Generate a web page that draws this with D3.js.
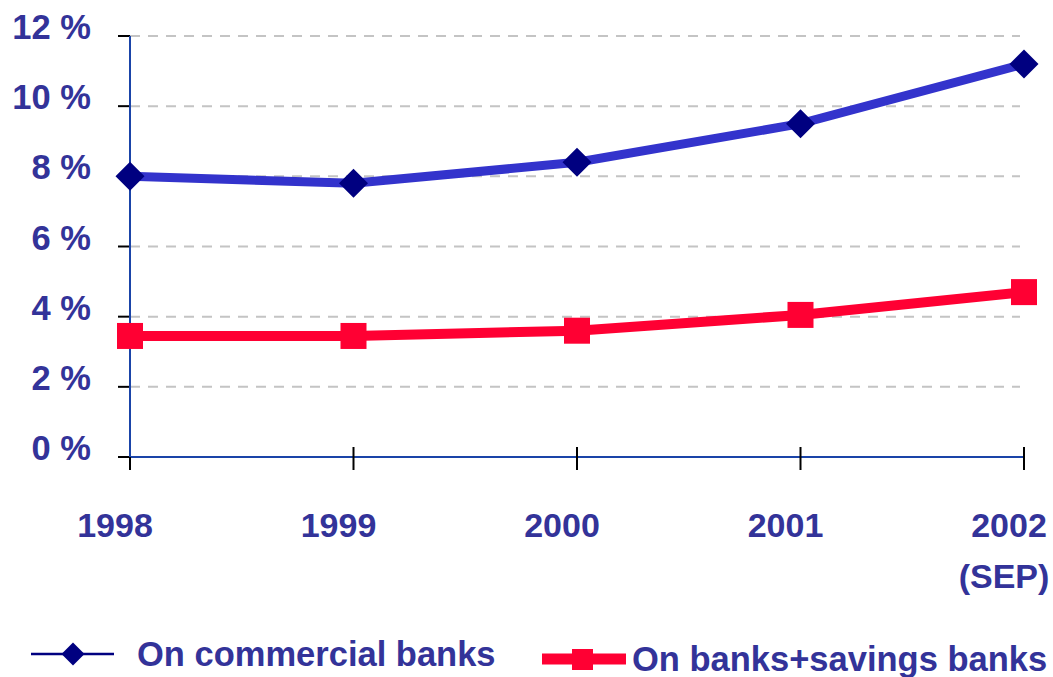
<!DOCTYPE html>
<html><head><meta charset="utf-8">
<script src="https://cdn.jsdelivr.net/npm/d3@7"></script>
<style>body{margin:0;background:#fff}svg{display:block}text{font-family:"Liberation Sans",Arial,sans-serif;font-weight:bold;fill:#333399}</style>
</head><body>
<svg id="c" width="1053" height="677"></svg>
<script>
const years = ["1998","1999","2000","2001","2002"];
const yearSub = ["","","","","(SEP)"];
const commercial = [8.0, 7.8, 8.4, 9.5, 11.2];
const banksSavings = [3.45, 3.45, 3.6, 4.05, 4.7];
const yTicks = [0, 2, 4, 6, 8, 10, 12];
const seriesNames = ["On commercial banks", "On banks+savings banks"];

const svg = d3.select("#c");
const x = d3.scalePoint().domain(years).range([130, 1024]);
const y = d3.scaleLinear().domain([0, 12]).range([457, 36]);

// gridlines
svg.append("g").selectAll("line").data(yTicks.filter(d => d > 0)).join("line")
  .attr("x1", 130).attr("x2", 1020).attr("y1", d => y(d)).attr("y2", d => y(d))
  .attr("stroke", "#c4c4c4").attr("stroke-width", 2).attr("stroke-dasharray", "10,8");

// y ticks
svg.append("g").selectAll("line").data(yTicks).join("line")
  .attr("x1", 118).attr("x2", 130).attr("y1", d => y(d)).attr("y2", d => y(d))
  .attr("stroke", "#000").attr("stroke-width", 2);
svg.append("g").selectAll("text").data(yTicks).join("text")
  .attr("x", 91).attr("y", d => y(d) + 3).attr("text-anchor", "end")
  .attr("font-size", 34.5).text(d => d + " %");

// axes lines
svg.append("line").attr("x1", 130).attr("x2", 130).attr("y1", y(12)).attr("y2", y(0))
  .attr("stroke", "#1a44a8").attr("stroke-width", 2);
svg.append("line").attr("x1", 130).attr("x2", 1024).attr("y1", y(0)).attr("y2", y(0))
  .attr("stroke", "#1a44a8").attr("stroke-width", 2);
// x ticks
svg.append("g").selectAll("line").data(years).join("line")
  .attr("x1", d => x(d)).attr("x2", d => x(d)).attr("y1", d => d === years[0] ? y(0) : y(0) - 10).attr("y2", 470)
  .attr("stroke", "#000").attr("stroke-width", 2);
// x labels
svg.append("g").selectAll("text").data(years).join("text")
  .attr("x", d => x(d) - 15).attr("y", 537).attr("text-anchor", "middle")
  .attr("font-size", 34).text(d => d);
svg.append("g").selectAll("text").data(years.map((d, i) => [d, yearSub[i]]).filter(d => d[1])).join("text")
  .attr("x", d => x(d[0]) - 20).attr("y", 588).attr("text-anchor", "middle")
  .attr("font-size", 34).text(d => d[1]);

const line = d3.line().x((d, i) => x(years[i])).y(d => y(d));
// red series
svg.append("path").datum(banksSavings).attr("d", line).attr("fill", "none")
  .attr("stroke", "#ff0033").attr("stroke-width", 10);
svg.append("g").selectAll("rect").data(banksSavings).join("rect")
  .attr("x", (d, i) => x(years[i]) - 13).attr("y", d => y(d) - 13)
  .attr("width", 26).attr("height", 26).attr("fill", "#ff0033");
// blue series
svg.append("path").datum(commercial).attr("d", line).attr("fill", "none")
  .attr("stroke", "#3333cc").attr("stroke-width", 9);
const diamond = (cx, cy, r) => `M${cx},${cy - r}L${cx + r},${cy}L${cx},${cy + r}L${cx - r},${cy}Z`;
svg.append("g").selectAll("path").data(commercial).join("path")
  .attr("d", (d, i) => diamond(x(years[i]), y(d), 14.5)).attr("fill", "#000080");

// legend
const lg = svg.append("g");
lg.append("line").attr("x1", 31).attr("x2", 114).attr("y1", 654).attr("y2", 654)
  .attr("stroke", "#000080").attr("stroke-width", 2.5);
lg.append("path").attr("d", diamond(73, 654, 11.5)).attr("fill", "#000080");
lg.append("text").attr("x", 137).attr("y", 666).attr("font-size", 34.5).text(seriesNames[0]);
lg.append("line").attr("x1", 542).attr("x2", 626).attr("y1", 659).attr("y2", 659)
  .attr("stroke", "#ff0033").attr("stroke-width", 11);
lg.append("rect").attr("x", 572).attr("y", 649).attr("width", 21).attr("height", 21).attr("fill", "#ff0033");
lg.append("text").attr("x", 632).attr("y", 671).attr("font-size", 34.5).text(seriesNames[1]);
</script>
</body></html>
